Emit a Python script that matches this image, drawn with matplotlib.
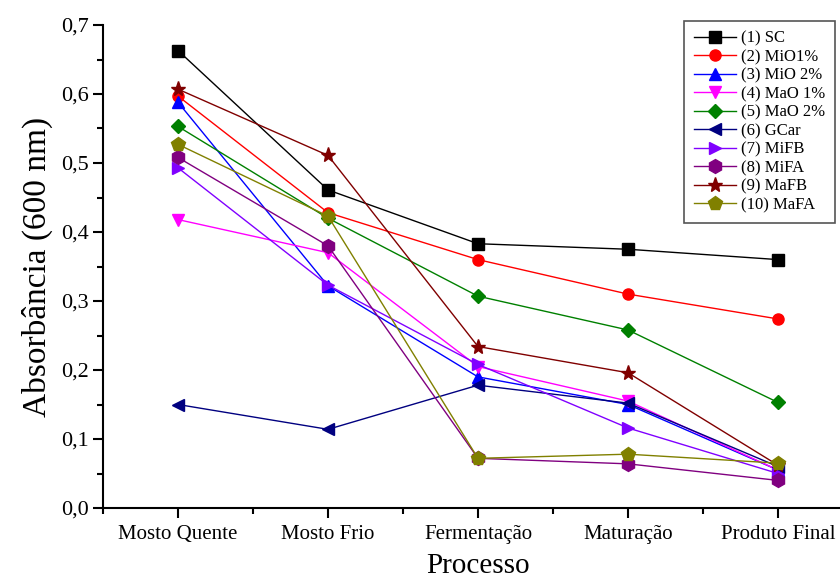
import matplotlib
matplotlib.use('Agg')
import matplotlib.pyplot as plt
from matplotlib.ticker import MultipleLocator, FixedLocator

stages = ['Mosto Quente', 'Mosto Frio', 'Fermentação', 'Maturação', 'Produto Final']

sc = [0.663, 0.461, 0.383, 0.375, 0.360]
mio1 = [0.597, 0.428, 0.360, 0.310, 0.274]
mio2 = [0.588, 0.322, 0.190, 0.150, 0.055]
mao1 = [0.418, 0.370, 0.205, 0.155, 0.055]
mao2 = [0.553, 0.420, 0.307, 0.258, 0.153]
gcar = [0.150, 0.114, 0.178, 0.152, 0.060]
mifb = [0.493, 0.323, 0.208, 0.116, 0.050]
mifa = [0.508, 0.380, 0.072, 0.064, 0.040]
mafb = [0.607, 0.511, 0.234, 0.196, 0.062]
mafa = [0.527, 0.423, 0.072, 0.078, 0.065]

series = [
    ('(1) SC', sc, 'black', 's'),
    ('(2) MiO1%', mio1, 'red', 'o'),
    ('(3) MiO 2%', mio2, 'blue', '^'),
    ('(4) MaO 1%', mao1, 'magenta', 'v'),
    ('(5) MaO 2%', mao2, '#008000', 'D'),
    ('(6) GCar', gcar, '#000080', '<'),
    ('(7) MiFB', mifb, '#8000ff', '>'),
    ('(8) MiFA', mifa, '#800080', 'h'),
    ('(9) MaFB', mafb, '#800000', '*'),
    ('(10) MaFA', mafa, '#808000', 'p'),
]

plt.rcParams['font.family'] = ['Liberation Serif', 'DejaVu Serif']

fig = plt.figure(figsize=(8.4, 5.8), dpi=100)
ax = fig.add_axes([103 / 840, 72 / 580, 750 / 840, 483 / 580])

# marker sizes tuned per shape so they look about the same on screen
sizes = {'*': 11, 'D': 7, 'h': 10, 'p': 10}

x = list(range(len(stages)))
for label, vals, color, marker in series:
    ax.plot(x, vals, color=color, marker=marker, ms=sizes.get(marker, 8), lw=1.0,
            markeredgecolor=color, label=label)

ax.set_xlim(-0.5, 4.5)
ax.set_ylim(0.0, 0.7)
ax.set_xticks(x)
ax.set_xticklabels(stages, fontsize=15)
ax.xaxis.set_minor_locator(FixedLocator([-0.5, 0.5, 1.5, 2.5, 3.5, 4.5]))
ax.yaxis.set_minor_locator(MultipleLocator(0.05))
ax.set_yticks([i / 10 for i in range(8)])
ax.set_yticklabels([f'{i / 10:.1f}'.replace('.', ',') for i in range(8)], fontsize=16)

ax.tick_params(which='major', direction='out', length=7, width=1.5)
ax.tick_params(which='minor', direction='out', length=4, width=1.5)
ax.tick_params(axis='x', pad=5)
ax.tick_params(axis='y', pad=3)

for side in ['top', 'right']:
    ax.spines[side].set_visible(False)
for side in ['left', 'bottom']:
    ax.spines[side].set_linewidth(1.5)

ax.set_ylabel('Absorbância (600 nm)', fontsize=24, labelpad=6)
ax.set_xlabel('Processo', fontsize=21, labelpad=7)

leg = fig.legend(loc='upper right', bbox_to_anchor=(0.998, 0.97), fontsize=12,
                 fancybox=False, edgecolor='#555555', framealpha=1,
                 handlelength=2.5, borderpad=0.6, labelspacing=0.15,
                 handletextpad=0.3, borderaxespad=0.2)
leg.get_frame().set_linewidth(1.2)

fig.savefig('out.png', dpi=100)
